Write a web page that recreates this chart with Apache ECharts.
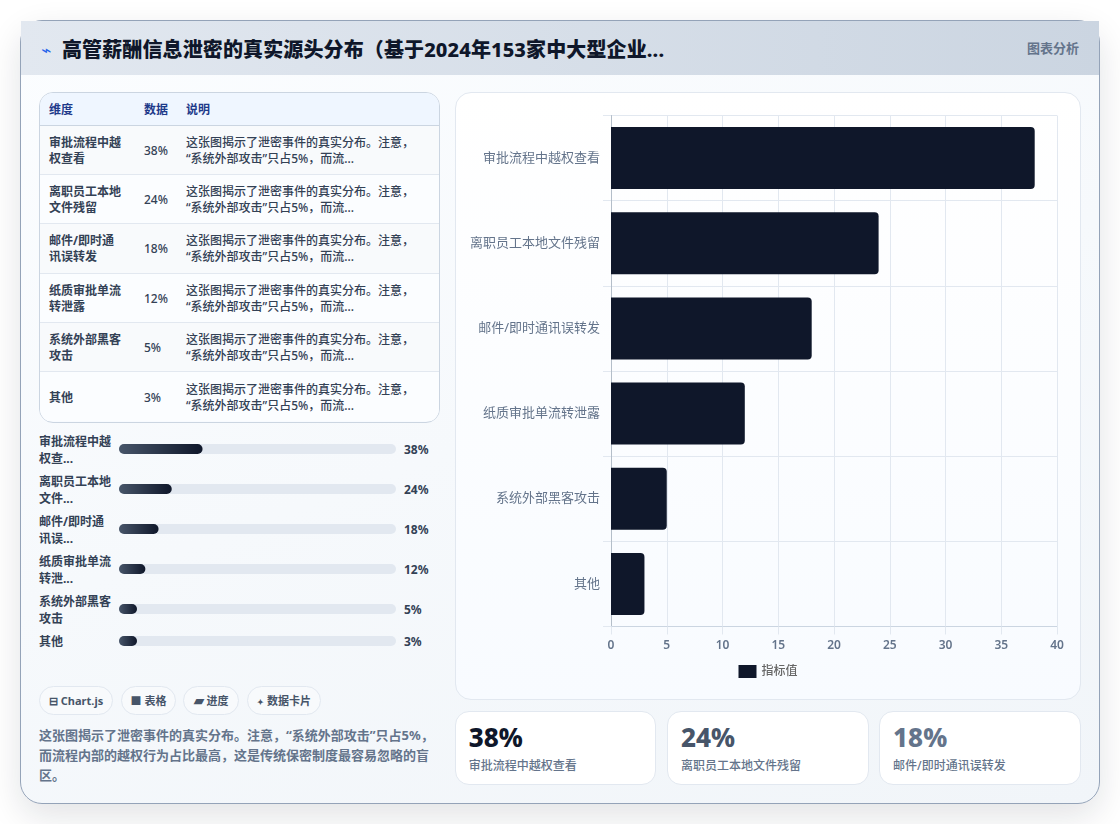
<!DOCTYPE html>
<html lang="zh-CN">
<head>
<meta charset="utf-8">
<title>高管薪酬信息泄密的真实源头分布</title>
<script src="https://cdn.jsdelivr.net/npm/echarts@6/dist/echarts.min.js"></script>
<style>
  * { box-sizing: border-box; margin: 0; padding: 0; }
  html, body { width: 1120px; height: 824px; overflow: hidden; background: #fff;
    font-family: "Noto Sans", "Noto Sans CJK SC", sans-serif; }
  .abs { position: absolute; }
  #panel { left: 20px; top: 20px; width: 1080px; height: 784px; border-radius: 22px;
    border: 1px solid #94a3b8; background: linear-gradient(160deg, #fbfdff 0%, #f1f5f9 100%);
    box-shadow: 0 12px 34px rgba(15, 23, 42, .12); }
  #head { left: 21px; top: 21px; width: 1078px; height: 54px;
    background: linear-gradient(90deg, #e2e8f0 0%, #cbd5e1 100%); }
  #glyph { left: 41px; top: 40px; font: 17px/20px "DejaVu Sans"; color: #2563eb; }
  #title { left: 62px; top: 36px; font-size: 20px; line-height: 28px; font-weight: 800; letter-spacing: .12px; color: #0f172a; white-space: nowrap; }
  #tag { left: 1027px; top: 38px; font-size: 13px; line-height: 20px; font-weight: 700; color: #64748b; }
  #tableBox { left: 39px; top: 92px; width: 401px; height: 331px; border: 1px solid #cbd5e1;
    border-radius: 14px; overflow: hidden; background: #f8fbff; }
  table { width: 100%; border-collapse: collapse; table-layout: fixed; font-size: 12px; line-height: 16px; color: #334155; }
  th { height: 32px; background: #eff6ff; color: #1e3a8a; font-weight: 700; text-align: left;
    padding: 3px 0 0 9px; border-bottom: 1px solid #cbd5e1; }
  td { height: 49.4px; padding: 2px 11px 0 9px; font-weight: 500; border-bottom: 1px solid #e2e8f0; }
  tr:last-child td { border-bottom: 0; }
  tbody tr:nth-child(odd) { background: #f8fafc; }
  tbody tr:nth-child(even) { background: #fbfdff; }
  td.dim { font-weight: 700; }
  .miniLabel { left: 39px; width: 74px; font-size: 12px; line-height: 16.5px; font-weight: 700; color: #334155; }
  .miniVal { left: 404px; font-size: 12px; line-height: 16px; font-weight: 700; color: #334155; }
  .miniBar { left: 119px; width: 277px; height: 10px; }
  .chip { top: 686px; height: 29px; border: 1px solid #e2e8f0; border-radius: 15px; background: #f8fafc;
    font-size: 11px; line-height: 27px; font-weight: 700; color: #475569; text-align: center; white-space: nowrap; }
  .chip i { font-style: normal; margin-right: 3px; }
  #note { left: 39px; top: 725px; width: 398px; font-size: 13px; line-height: 20px; font-weight: 700; color: #64748b; }
  #chartCard { left: 454.5px; top: 92px; width: 626.5px; height: 608px; border: 1px solid #e2e8f0;
    border-radius: 16px; background: linear-gradient(180deg, #ffffff 0%, #f8fbff 100%); }
  #chart { left: 455px; top: 92px; width: 626px; height: 608px; }
  .stat { top: 711px; height: 74px; width: 201.7px; border: 1px solid #e2e8f0; border-radius: 14px; background: #fff; }
  .stat b { position: absolute; left: 13px; top: 7px; font-size: 26px; line-height: 36px; font-weight: 800; }
  .stat span { position: absolute; left: 13px; top: 46px; font-size: 12px; line-height: 16px; font-weight: 500; color: #64748b; white-space: nowrap; }
</style>
</head>
<body>
<div id="panel" class="abs"></div>
<div id="head" class="abs"></div>
<div id="glyph" class="abs">⌁</div>
<div id="title" class="abs">高管薪酬信息泄密的真实源头分布（基于2024年153家中大型企业...</div>
<div id="tag" class="abs">图表分析</div>
<div id="tableBox" class="abs"></div>
<div id="miniRows"></div>
<div id="chips"></div>
<div id="note" class="abs">这张图揭示了泄密事件的真实分布。注意，“系统外部攻击”只占5%，而流程内部的越权行为占比最高，这是传统保密制度最容易忽略的盲区。</div>
<div id="chartCard" class="abs"></div>
<div id="chart" class="abs"></div>
<div id="stats"></div>

<script>
// Breach sources and their share, in percent
const categories = ['审批流程中越权查看', '离职员工本地文件残留', '邮件/即时通讯误转发', '纸质审批单流转泄露', '系统外部黑客攻击', '其他'];
const shares = [38, 24, 18, 12, 5, 3];
const shortLabels = ['审批流程中越权查...', '离职员工本地文件...', '邮件/即时通讯误...', '纸质审批单流转泄...', '系统外部黑客攻击', '其他'];
const detailLines = ['这张图揭示了泄密事件的真实分布。注意，', '“系统外部攻击”只占5%，而流...'];
const tableHeads = ['维度', '数据', '说明'];
const chips = [['⊟', 'Chart.js', 39, 74, 11], ['■', '表格', 121, 55, 11], ['▰', '进度', 183, 56, 13], ['✦', '数据卡片', 247, 74, 8]];
const statColors = ['#0f172a', '#475569', '#64748b'];

// Summary table
const rows = categories.map((c, i) =>
  `<tr><td class="dim">${c}</td><td>${shares[i]}%</td><td>${detailLines.join('<br>')}</td></tr>`).join('');
document.getElementById('tableBox').innerHTML =
  `<table><colgroup><col style="width:95px"><col style="width:42px"><col></colgroup>` +
  `<thead><tr>${tableHeads.map(h => `<th>${h}</th>`).join('')}</tr></thead><tbody>${rows}</tbody></table>`;

// Progress rows: each track is a tiny chart of its own, since rows differ in height
const rowCentres = [449, 489, 529, 569, 609, 641];
const miniHost = document.getElementById('miniRows');
categories.forEach((c, i) => {
  const y = rowCentres[i];
  const lines = i === categories.length - 1 ? 1 : 2;
  miniHost.insertAdjacentHTML('beforeend',
    `<div class="abs miniLabel" style="top:${y - lines * 8 + 1}px">${shortLabels[i]}</div>` +
    `<div class="abs miniBar" id="mini${i}" style="top:${y - 5}px"></div>` +
    `<div class="abs miniVal" style="top:${y - 7}px">${shares[i]}%</div>`);
  echarts.init(document.getElementById('mini' + i)).setOption({
    animation: false,
    grid: { left: 0, right: 0, top: 0, bottom: 0 },
    xAxis: { type: 'value', min: 0, max: 126, show: false },
    yAxis: { type: 'category', data: [c], show: false },
    series: [{
      type: 'bar', data: [shares[i]], barWidth: 10, barMinHeight: 18,
      showBackground: true,
      backgroundStyle: { color: '#e2e8f0', borderRadius: 5 },
      itemStyle: {
        borderRadius: 5,
        color: { type: 'linear', x: 0, y: 0, x2: 1, y2: 0,
          colorStops: [{ offset: 0, color: '#475569' }, { offset: 1, color: '#0f172a' }] }
      }
    }]
  });
});

// Tags under the progress rows
document.getElementById('chips').innerHTML = chips.map(([icon, t, x, w, size]) =>
  `<div class="abs chip" style="left:${x}px;width:${w}px"><i style="font-size:${size}px">${icon}</i>${t}</div>`).join('');

// Top three sources as stat cards
document.getElementById('stats').innerHTML = [0, 1, 2].map(i =>
  `<div class="abs stat" style="left:${454.7 + i * 212.2}px"><b style="color:${statColors[i]}">${shares[i]}%</b><span>${categories[i]}</span></div>`).join('');

// Main horizontal bar chart
const gridLine = { lineStyle: { color: '#e2e8f0', width: 1 } };
echarts.init(document.getElementById('chart')).setOption({
  animation: false,
  textStyle: { fontFamily: '"Noto Sans", "Noto Sans CJK SC", sans-serif' },
  grid: { left: 156, top: 23.5, width: 446, height: 511 },
  legend: {
    left: 'center', top: 568, itemWidth: 18, itemHeight: 13, itemGap: 6,
    icon: 'rect',
    textStyle: { color: '#666', fontSize: 12, fontWeight: 500 }
  },
  xAxis: {
    type: 'value', min: 0, max: 40, interval: 5,
    axisLine: { show: true, lineStyle: { color: '#cbd5e1' } },
    axisTick: { show: true, length: 8, ...gridLine },
    axisLabel: { color: '#64748b', fontSize: 12, fontWeight: 600, margin: 13 },
    splitLine: { show: true, ...gridLine }
  },
  yAxis: {
    type: 'category', data: categories, inverse: true,
    axisLine: { show: true, lineStyle: { color: '#b4bec9' } },
    axisTick: { show: true, length: 8, ...gridLine },
    axisLabel: { color: '#64748b', fontSize: 13, margin: 11 },
    splitLine: { show: true, ...gridLine }
  },
  series: [{
    name: '指标值', type: 'bar', data: shares, barWidth: 62,
    itemStyle: { color: '#0f172a', borderRadius: [0, 4, 4, 0] }
  }]
});
</script>
</body>
</html>
